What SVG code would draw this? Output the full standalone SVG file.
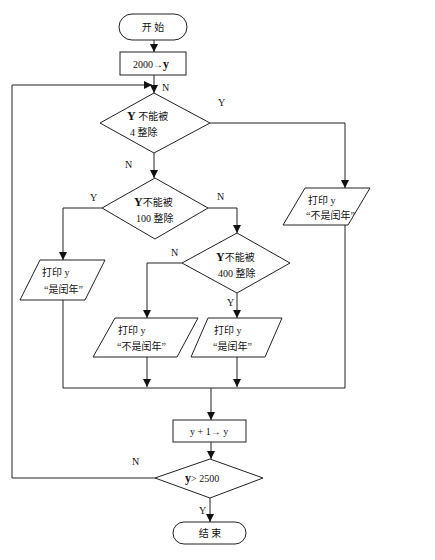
<svg xmlns="http://www.w3.org/2000/svg" width="435" height="560" viewBox="0 0 435 560">
<style>
.s{fill:#fff;stroke:#222;stroke-width:1}
.c{fill:none;stroke:#222;stroke-width:1}
text{font-family:"Liberation Serif","Noto Sans CJK SC",serif;font-size:10px;fill:#111}
.b{font-weight:bold;font-size:12px}
.l{font-size:10px}
</style>
<defs>
<marker id="a" viewBox="0 0 10 10" refX="10" refY="5" markerWidth="8" markerHeight="8" markerUnits="userSpaceOnUse" orient="auto">
<path d="M0,0 L10,5 L0,10 z" fill="#111"/>
</marker>
</defs>
<rect width="435" height="560" fill="#fff"/>
<g id="connectors">
<line class="c" x1="154" y1="40" x2="154" y2="52" marker-end="url(#a)"/>
<line class="c" x1="154" y1="75" x2="154" y2="93" marker-end="url(#a)"/>
<polyline class="c" points="210,123 345,123 345,188" marker-end="url(#a)"/>
<line class="c" x1="154" y1="153" x2="154" y2="178" marker-end="url(#a)"/>
<polyline class="c" points="102,208 63,208 63,260" marker-end="url(#a)"/>
<polyline class="c" points="208,208 237,208 237,233" marker-end="url(#a)"/>
<polyline class="c" points="182,263 147,263 147,318" marker-end="url(#a)"/>
<line class="c" x1="237" y1="293" x2="237" y2="318" marker-end="url(#a)"/>
<line class="c" x1="63" y1="300" x2="63" y2="388"/>
<line class="c" x1="147" y1="357" x2="147" y2="387" marker-end="url(#a)"/>
<line class="c" x1="237" y1="357" x2="237" y2="387" marker-end="url(#a)"/>
<line class="c" x1="345" y1="225" x2="345" y2="388"/>
<line class="c" x1="63" y1="388" x2="345" y2="388"/>
<line class="c" x1="211" y1="388" x2="211" y2="420" marker-end="url(#a)"/>
<line class="c" x1="211" y1="442" x2="211" y2="459" marker-end="url(#a)"/>
<polyline class="c" points="155,478 12,478 12,85 152,85" marker-end="url(#a)"/>
<line class="c" x1="210" y1="498" x2="210" y2="522" marker-end="url(#a)"/>
<text class="l" x="162" y="91">N</text>
<text class="l" x="218" y="106">Y</text>
<text class="l" x="125" y="168">N</text>
<text class="l" x="90" y="201">Y</text>
<text class="l" x="217" y="200">N</text>
<text class="l" x="171" y="256">N</text>
<text class="l" x="227" y="306">Y</text>
<text class="l" x="132" y="465">N</text>
<text class="l" x="199" y="514">Y</text>
</g>
<g id="start">
<rect class="s" x="119" y="14" width="68" height="26" rx="13"/>
<text x="153" y="31" text-anchor="middle">开 始</text>
</g>
<g id="init">
<rect class="s" x="120" y="52" width="66" height="23"/>
<text x="133" y="68">2000→<tspan class="b">y</tspan></text>
</g>
<g id="d1">
<polygon class="s" points="154,93 210,123 154,153 100,123"/>
<text x="127" y="120"><tspan class="b">Y</tspan> 不能被</text>
<text x="130" y="136">4 整除</text>
</g>
<g id="p_right">
<polygon class="s" points="305,188 370,188 348,225 283,225"/>
<text x="308" y="204">打印 y</text>
<text x="306" y="219">“不是闰年”</text>
</g>
<g id="d2">
<polygon class="s" points="155,178 208,208 155,239 102,208"/>
<text x="134" y="206"><tspan class="b">Y</tspan>不能被</text>
<text x="136" y="222">100 整除</text>
</g>
<g id="p_left">
<polygon class="s" points="40,260 105,260 85,300 20,300"/>
<text x="42" y="276">打印 y</text>
<text x="44" y="293">“是闰年”</text>
</g>
<g id="d3">
<polygon class="s" points="237,233 290,263 237,293 182,263"/>
<text x="216" y="261"><tspan class="b">Y</tspan>不能被</text>
<text x="218" y="277">400 整除</text>
</g>
<g id="p_mid1">
<polygon class="s" points="115,318 198,318 177,357 93,357"/>
<text x="118" y="334">打印 y</text>
<text x="117" y="350">“不是闰年”</text>
</g>
<g id="p_mid2">
<polygon class="s" points="208,318 282,318 265,357 191,357"/>
<text x="214" y="334">打印 y</text>
<text x="213" y="350">“是闰年”</text>
</g>
<g id="inc">
<rect class="s" x="173" y="420" width="73" height="22"/>
<text x="190" y="435">y + 1→ y</text>
</g>
<g id="d4">
<polygon class="s" points="210,459 263,478 210,498 155,478"/>
<text x="185" y="482"><tspan class="b">y</tspan>&gt; 2500</text>
</g>
<g id="end">
<rect class="s" x="173" y="522" width="73" height="22" rx="11"/>
<text x="210" y="537" text-anchor="middle">结 束</text>
</g>
</svg>
